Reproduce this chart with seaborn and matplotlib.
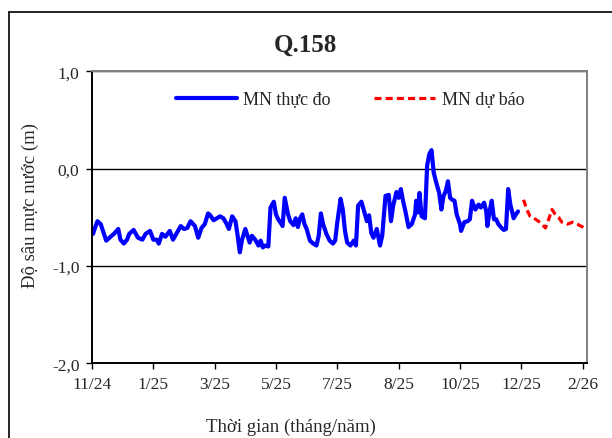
import numpy as np
import pandas as pd
import matplotlib
matplotlib.use("Agg")
import matplotlib.pyplot as plt
import seaborn as sns
from matplotlib.lines import Line2D

# observed water depth (days since 21/11/2024, metres)
obs_day = [1, 3, 5, 8, 10, 13, 16, 20, 24, 26, 29, 32, 34, 38, 42, 46, 49, 53, 56, 59,
           61, 64, 67, 71, 74, 77, 81, 84, 87, 90, 94, 97, 100, 103, 106, 108, 111, 114, 117, 120,
           123, 125, 128, 131, 133, 135, 137, 140, 142, 144, 146, 149, 152, 154, 156, 158, 161, 163, 166, 168,
           170, 173, 174, 176, 179, 181, 184, 186, 188, 190, 192, 194, 196, 199, 202, 205, 207, 209, 211, 214,
           217, 220, 222, 224, 227, 229, 231, 233, 236, 239, 241, 243, 246, 248, 251, 253, 255, 257, 260, 263,
           265, 268, 271, 273, 275, 278, 280, 282, 284, 286, 289, 292, 295, 296, 298, 299, 301, 304, 306, 308,
           310, 312, 314, 317, 319, 321, 323, 325, 327, 329, 331, 333, 336, 337, 340, 343, 345, 347, 350, 353,
           355, 358, 360, 361, 363, 365, 367, 369, 371, 374, 376, 378, 380, 382, 385, 387, 389]
obs_depth = [-0.67, -0.60, -0.54, -0.57, -0.64, -0.74, -0.71, -0.67, -0.62, -0.73,
             -0.77, -0.73, -0.67, -0.63, -0.71, -0.73, -0.67, -0.64, -0.73, -0.73,
             -0.77, -0.67, -0.70, -0.64, -0.73, -0.67, -0.59, -0.62, -0.61, -0.54,
             -0.59, -0.71, -0.61, -0.57, -0.46, -0.48, -0.53, -0.51, -0.49, -0.51,
             -0.57, -0.62, -0.49, -0.54, -0.69, -0.86, -0.73, -0.62, -0.69, -0.76,
             -0.69, -0.73, -0.79, -0.74, -0.81, -0.79, -0.80, -0.40, -0.34, -0.47,
             -0.52, -0.57, -0.59, -0.30, -0.47, -0.54, -0.58, -0.51, -0.60, -0.51,
             -0.47, -0.57, -0.62, -0.74, -0.77, -0.79, -0.69, -0.46, -0.57, -0.67,
             -0.74, -0.77, -0.74, -0.55, -0.31, -0.42, -0.64, -0.76, -0.79, -0.74,
             -0.79, -0.38, -0.34, -0.42, -0.54, -0.48, -0.66, -0.71, -0.62, -0.79,
             -0.69, -0.28, -0.27, -0.54, -0.38, -0.24, -0.30, -0.21, -0.33, -0.43,
             -0.60, -0.57, -0.47, -0.33, -0.45, -0.25, -0.49, -0.51, 0.03, 0.15,
             0.19, -0.04, -0.13, -0.25, -0.42, -0.28, -0.23, -0.13, -0.30, -0.32,
             -0.33, -0.47, -0.57, -0.64, -0.55, -0.54, -0.52, -0.33, -0.42, -0.37,
             -0.40, -0.35, -0.44, -0.59, -0.44, -0.33, -0.52, -0.52, -0.57, -0.61,
             -0.63, -0.62, -0.21, -0.37, -0.51, -0.47, -0.44]

# forecast water depth
fc_day = [394, 397, 400, 405, 410, 414, 417, 420, 423, 426, 429, 434, 439, 443, 448, 451]
fc_depth = [-0.32, -0.42, -0.49, -0.52, -0.56, -0.61, -0.52, -0.42, -0.47, -0.50,
            -0.55, -0.57, -0.55, -0.57, -0.60, -0.62]

x_tick_labels = ['11/24', '1/25', '3/25', '5/25', '7/25', '8/25', '10/25', '12/25', '2/26']
y_tick_labels = ['-2,0', '-1,0', '0,0', '1,0']

sns.set_style("white")
plt.rcParams['font.family'] = ['Liberation Serif', 'DejaVu Serif']

fig = plt.figure(figsize=(6.12, 4.39), dpi=100)
ax = fig.add_axes([0.1503, 0.1702, 0.8089, 0.6651])

sns.lineplot(x=obs_day, y=obs_depth, ax=ax, color='#0000FF', lw=3,
             solid_joinstyle='round', label='MN thực đo')
sns.lineplot(x=fc_day, y=fc_depth, ax=ax, color='#FF0000', lw=2.3, label='MN dự báo')
ax.lines[-1].set_dashes([2.2, 1.3])

ax.set_xlim(0, 452)
ax.set_ylim(-2, 1)
ax.set_xticks(np.arange(len(x_tick_labels)) * 56)
ax.set_xticklabels(x_tick_labels, fontsize=12.5)
ax.set_yticks(np.arange(-2, 1.5, 1))
ax.set_yticklabels(y_tick_labels, fontsize=12.5)
ax.set_xlabel('')
ax.set_ylabel('')
ax.tick_params(axis='both', direction='out', length=4, width=1, color='black',
               left=True, bottom=True, pad=5)

ax.yaxis.grid(True, color='black', lw=1)
for side in ['left', 'bottom']:
    ax.spines[side].set_color('black')
    ax.spines[side].set_linewidth(1.4)
for side in ['top', 'right']:
    ax.spines[side].set_color('#808080')
    ax.spines[side].set_linewidth(1.4)

leg = ax.legend(loc='center', bbox_to_anchor=(0.521, 0.902), ncol=2, frameon=False,
                fontsize=13, handlelength=3.4, handletextpad=0.35, columnspacing=2.4)

fig.text(305 / 612, 1 - 45 / 439, 'Q.158', ha='center', va='center', fontsize=18, fontweight='bold')
fig.text(30 / 612, 1 - 205 / 439, 'Độ sâu mực nước (m)', rotation=90, ha='center', va='center', fontsize=13.5)
fig.text(291 / 612, 1 - 427 / 439, 'Thời gian (tháng/năm)', ha='center', va='center', fontsize=13.5)

# outer chart border (partly cut off in the original)
fig.add_artist(Line2D([8.5 / 612, 8.5 / 612], [0, 1 - 12.7 / 439], transform=fig.transFigure, color='black', lw=1.2))
fig.add_artist(Line2D([8.5 / 612, 1], [1 - 12.7 / 439, 1 - 12.7 / 439], transform=fig.transFigure, color='black', lw=1.2))

fig.savefig("out.png", dpi=100)
